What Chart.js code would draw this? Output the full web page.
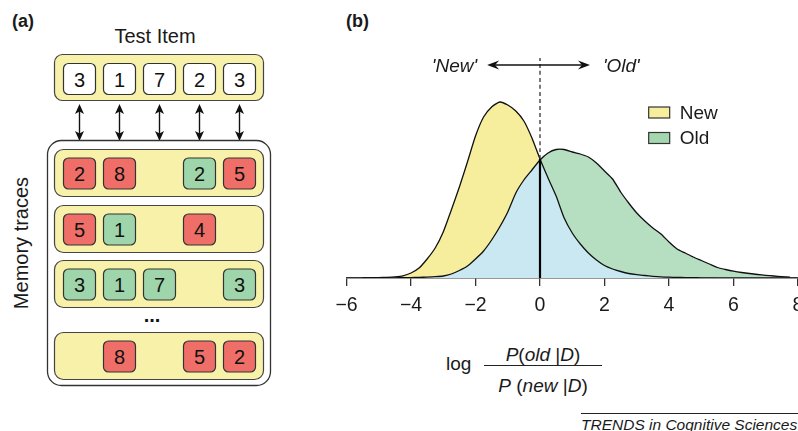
<!DOCTYPE html>
<html>
<head>
<meta charset="utf-8">
<script src="https://cdn.jsdelivr.net/npm/chart.js@4.4.1/dist/chart.umd.min.js"></script>
<style>
  html, body { margin: 0; padding: 0; width: 798px; height: 431px; overflow: hidden; background: #fff;
    font-family: "Liberation Sans", Arial, sans-serif; color: #1a1a1a; }
  #diagram { position: absolute; left: 0; top: 0; }
  #density { position: absolute; left: 316px; top: 40px; }
  .lbl { position: absolute; white-space: nowrap; line-height: 1; }
  .frac { position: absolute; left: 484px; width: 118px; text-align: center; font-size: 19px; line-height: 1; white-space: nowrap; }
  #fracline { position: absolute; left: 484px; top: 365px; width: 118px; height: 1.3px; background: #222; }
  #credit { position: absolute; left: 581px; top: 413px; width: 240px; border-top: 1px solid #222;
    font-style: italic; font-size: 15.5px; line-height: 1; padding-top: 3px; white-space: nowrap; }
</style>
</head>
<body>
<svg id="diagram" width="300" height="431"></svg>
<canvas id="density" width="512" height="278"></canvas>

<div class="lbl" style="left:346px; top:12px; font-weight:bold; font-size:18px;">(b)</div>
<div class="lbl" style="left:446px; top:354px; font-size:19px;">log</div>
<div class="frac" style="top:345px;"><i>P</i>(<i>old</i> |<i>D</i>)</div>
<div id="fracline"></div>
<div class="frac" style="top:376px;"><i>P</i> (<i>new</i> |<i>D</i>)</div>
<div id="credit">TRENDS in Cognitive Sciences</div>

<script>
// --- panel (a): test item and memory traces ---
const testItem = [3, 1, 7, 2, 3];
const memoryTraces = [
  [2, 8, null, 2, 5],
  [5, 1, null, 4, null],
  [3, 1, 7, null, 3],
  [null, 8, null, 5, 2]
];

// --- panel (b): log-odds densities for new and old items ---
const logOdds = [-5.5, -5.25, -5, -4.75, -4.5, -4.25, -4, -3.75, -3.5, -3.25, -3, -2.75, -2.5, -2.25,
  -2, -1.75, -1.5, -1.25, -1, -0.75, -0.5, -0.25, 0, 0.25, 0.5, 0.75, 1, 1.25, 1.5, 1.75,
  2, 2.25, 2.5, 2.75, 3, 3.25, 3.5, 3.75, 4, 4.25, 4.5, 4.75, 5, 5.25, 5.5, 5.75,
  6, 6.25, 6.5, 6.75, 7, 7.25, 7.5, 7.75];
const newDensity = [0, 0.0004, 0.0008, 0.0014, 0.0024, 0.0044, 0.010, 0.020, 0.038, 0.060, 0.092, 0.136, 0.182, 0.232,
  0.284, 0.322, 0.342, 0.352, 0.346, 0.334, 0.314, 0.280, 0.238, 0.200, 0.164, 0.120, 0.090, 0.068, 0.050, 0.036,
  0.025, 0.018, 0.013, 0.009, 0.0066, 0.005, 0.0034, 0.0022, 0.0016, 0.0012, 0.0008, 0.0006, 0.0004, 0.0003, 0.0002, 0.0001,
  0, 0, 0, 0, 0, 0, 0, 0];
const oldDensity = [0, 0.0001, 0.0002, 0.0003, 0.0004, 0.0006, 0.0008, 0.0012, 0.0018, 0.0026, 0.004, 0.008, 0.015, 0.024,
  0.038, 0.054, 0.076, 0.102, 0.132, 0.170, 0.196, 0.216, 0.236, 0.250, 0.257, 0.257, 0.252, 0.248, 0.242, 0.230,
  0.214, 0.198, 0.172, 0.150, 0.130, 0.114, 0.100, 0.088, 0.072, 0.058, 0.050, 0.042, 0.035, 0.028, 0.021, 0.017,
  0.0136, 0.011, 0.009, 0.007, 0.0054, 0.004, 0.0028, 0.0016];
const criterion = 0;
const crossing = 0.238;
const xTicks = [-6, -4, -2, 0, 2, 4, 6, 8];
const legendLabels = ['New', 'Old'];

const FONT = '"Liberation Sans", Arial, sans-serif';
const yellow = '#f6ee9c';
const green = '#b6dfc1';
const legendGreen = '#a4d7b0';
const blue = '#c9e8f2';
const red = '#ef6f68';
const matchGreen = '#9fd5aa';

// draw the diagram
(function drawDiagram() {
  const svg = document.getElementById('diagram');
  const colX = i => 63 + 40 * i;
  const rowTops = [149, 205, 260, 332];
  let s = '';
  s += `<text x="12" y="27" font-family='${FONT}' font-size="18" font-weight="bold" fill="#1a1a1a">(a)</text>`;
  s += `<text x="155" y="43" font-family='${FONT}' font-size="20" text-anchor="middle" fill="#1a1a1a">Test Item</text>`;
  s += `<rect x="54.5" y="54.5" width="209" height="46" rx="8" fill="#f8f1aa" stroke="#444" stroke-width="1.2"/>`;
  const cell = (x, y, fill, v) =>
    `<rect x="${x + 0.5}" y="${y + 0.5}" width="32" height="31" rx="5" fill="${fill}" stroke="#333" stroke-width="1.2"/>` +
    `<text x="${x + 16.5}" y="${y + 23.5}" font-family='${FONT}' font-size="20" text-anchor="middle" fill="#111">${v}</text>`;
  testItem.forEach((v, i) => { s += cell(colX(i), 63, '#fff', v); });
  // double arrows between the test item and memory
  testItem.forEach((v, i) => {
    const cx = colX(i) + 16.5;
    s += `<line x1="${cx}" y1="110" x2="${cx}" y2="135" stroke="#111" stroke-width="1.4"/>`;
    s += `<polygon points="${cx},104 ${cx - 4.5},114 ${cx},111.5 ${cx + 4.5},114" fill="#111"/>`;
    s += `<polygon points="${cx},141 ${cx - 4.5},131 ${cx},133.5 ${cx + 4.5},131" fill="#111"/>`;
  });
  s += `<rect x="47.5" y="140.5" width="223" height="245" rx="14" fill="#fff" stroke="#333" stroke-width="1.3"/>`;
  memoryTraces.forEach((row, r) => {
    const top = rowTops[r];
    s += `<rect x="54.5" y="${top + 0.5}" width="209" height="47" rx="9" fill="#f8f1aa" stroke="#444" stroke-width="1.2"/>`;
    row.forEach((v, i) => {
      if (v === null) return;
      s += cell(colX(i), top + 8.5, v === testItem[i] ? matchGreen : red, v);
    });
  });
  s += `<text x="152" y="322" font-family='${FONT}' font-size="20" font-weight="bold" text-anchor="middle" fill="#111">...</text>`;
  s += `<text transform="translate(28,243) rotate(-90)" font-family='${FONT}' font-size="20" text-anchor="middle" fill="#1a1a1a">Memory traces</text>`;
  svg.innerHTML = s;
})();

// arrow, 'New'/'Old' labels and legend on top of the density plot
function arrowHead(ctx, tipX, y, dir) {
  ctx.beginPath();
  ctx.moveTo(tipX, y);
  ctx.lineTo(tipX - dir * 12, y - 4.5);
  ctx.lineTo(tipX - dir * 8, y);
  ctx.lineTo(tipX - dir * 12, y + 4.5);
  ctx.closePath();
  ctx.fill();
}

const annotations = {
  id: 'annotations',
  afterDatasetsDraw(chart) {
    const {ctx, scales: {x, y}} = chart;
    ctx.save();
    ctx.strokeStyle = '#111';
    ctx.fillStyle = '#111';
    ctx.lineWidth = 1.3;
    const ay = y.getPixelForValue(0.426);
    const x0 = x.getPixelForValue(-1.64), x1 = x.getPixelForValue(1.55);
    ctx.beginPath();
    ctx.moveTo(x0 + 6, ay);
    ctx.lineTo(x1 - 6, ay);
    ctx.stroke();
    arrowHead(ctx, x0, ay, -1);
    arrowHead(ctx, x1, ay, 1);

    ctx.fillStyle = '#1a1a1a';
    ctx.font = 'italic 19px ' + FONT;
    ctx.textBaseline = 'middle';
    ctx.textAlign = 'right';
    ctx.fillText("'New'", x.getPixelForValue(-1.95), ay + 2);
    ctx.textAlign = 'left';
    ctx.fillText("'Old'", x.getPixelForValue(1.95), ay + 2);

    // legend
    const lx = x.getPixelForValue(3.37);
    const ly = y.getPixelForValue(0.331);
    const colors = [yellow, legendGreen];
    ctx.font = '19px ' + FONT;
    legendLabels.forEach((lab, i) => {
      const cy = ly + i * 25.5;
      ctx.fillStyle = colors[i];
      ctx.fillRect(lx, cy - 5.5, 21, 11);
      ctx.strokeStyle = '#333';
      ctx.lineWidth = 1.2;
      ctx.strokeRect(lx, cy - 5.5, 21, 11);
      ctx.fillStyle = '#1a1a1a';
      ctx.fillText(lab, lx + 31, cy + 1);
    });
    ctx.restore();
  }
};

const toPoints = ys => logOdds.map((v, i) => ({x: v, y: ys[i]}));

const ctx = document.getElementById('density').getContext('2d');
new Chart(ctx, {
  type: 'line',
  data: {
    datasets: [
      {
        label: 'New',
        data: toPoints(newDensity),
        fill: 'origin',
        backgroundColor: blue,
        borderColor: '#111',
        borderWidth: 1.3,
        order: 2
      },
      {
        label: 'Old',
        data: toPoints(oldDensity),
        fill: {target: 0, above: green, below: yellow},
        borderColor: '#111',
        borderWidth: 1.3,
        order: 1
      },
      {
        label: 'criterion',
        data: [{x: criterion, y: 0}, {x: criterion, y: crossing}],
        fill: false,
        borderColor: '#000',
        borderWidth: 2.2,
        order: 0
      },
      {
        label: 'criterion-dashed',
        data: [{x: criterion, y: crossing}, {x: criterion, y: 0.44}],
        fill: false,
        borderColor: '#333',
        borderWidth: 1.3,
        borderDash: [4, 3],
        order: 0
      }
    ]
  },
  options: {
    responsive: false,
    animation: false,
    events: [],
    elements: {point: {radius: 0}, line: {tension: 0.2}},
    layout: {padding: {left: 30.5, right: 30, top: 13, bottom: 0}},
    plugins: {
      legend: {display: false},
      tooltip: {enabled: false},
      filler: {drawTime: 'beforeDatasetsDraw'}
    },
    scales: {
      x: {
        type: 'linear',
        min: xTicks[0],
        max: xTicks[xTicks.length - 1],
        afterBuildTicks: axis => { axis.ticks = xTicks.map(v => ({value: v})); },
        afterFit: axis => { axis.height = 40; },
        grid: {drawOnChartArea: false, drawTicks: true, tickLength: 8, color: '#333', lineWidth: 1.3},
        border: {display: true, color: '#333', width: 1.5},
        ticks: {
          padding: 8,
          color: '#1a1a1a',
          font: {family: FONT, size: 19.5},
          callback: v => String(v).replace('-', '\u2212')
        }
      },
      y: {display: false, min: 0, max: 0.45}
    }
  },
  plugins: [annotations]
});
</script>
</body>
</html>
